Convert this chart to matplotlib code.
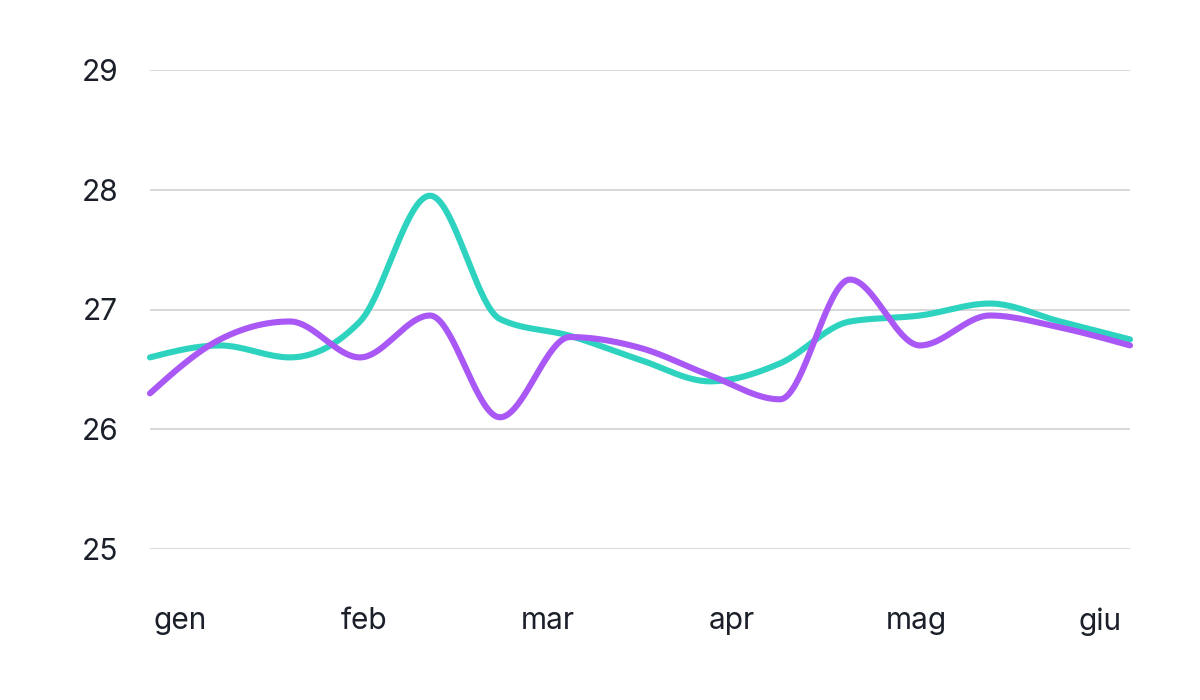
import numpy as np
from matplotlib import pyplot as plt

plt.rcParams['font.family'] = ['Inter', 'DejaVu Sans']

# data: 15 evenly spaced samples, two series
teal_vals = [26.6, 26.7, 26.6, 26.9, 27.95, 26.92, 26.78, 26.58,
             26.4, 26.55, 26.9, 26.95, 27.05, 26.9, 26.75]
purple_vals = [26.3, 26.75, 26.9, 26.6, 26.95, 26.1, 26.77, 26.68,
               26.45, 26.25, 27.25, 26.7, 26.95, 26.85, 26.7]
months = ["gen", "feb", "mar", "apr", "mag", "giu"]
y_ticks = [25, 26, 27, 28, 29]

c_teal = "#2ed3c0"
c_purple = "#a958f5"
c_text = "#1b1f2a"
c_grid = "#d6d6d6"


def monotone_curve(x, y, n=40):
    """ Monotone cubic (d3 monotoneX style) through the points. """
    x = np.asarray(x, float)
    y = np.asarray(y, float)
    h = np.diff(x)
    s = np.diff(y) / h
    m = np.zeros_like(y)
    for i in range(1, len(y) - 1):
        p = (s[i-1]*h[i] + s[i]*h[i-1]) / (h[i-1] + h[i])
        m[i] = (np.sign(s[i-1]) + np.sign(s[i])) * \
            min(abs(s[i-1]), abs(s[i]), 0.5*abs(p))
    m[0] = (3*s[0] - m[1]) / 2
    m[-1] = (3*s[-1] - m[-2]) / 2
    xs, ys = [], []
    for i in range(len(h)):
        t = np.linspace(0, 1, n, endpoint=False)
        h00 = 2*t**3 - 3*t**2 + 1
        h10 = t**3 - 2*t**2 + t
        h01 = -2*t**3 + 3*t**2
        h11 = t**3 - t**2
        xs.append(x[i] + t*h[i])
        ys.append(h00*y[i] + h10*h[i]*m[i] + h01*y[i+1] + h11*h[i]*m[i+1])
    xs.append([x[-1]])
    ys.append([y[-1]])
    return np.concatenate(xs), np.concatenate(ys)


fig = plt.figure(figsize=(12, 7), dpi=100)
ax = fig.add_axes([0.125, 1 - 549/700, 1130/1200 - 0.125, (549 - 70)/700])

x = np.arange(len(teal_vals))
for vals, col in [(teal_vals, c_teal), (purple_vals, c_purple)]:
    cx, cy = monotone_curve(x, vals)
    ax.plot(cx, cy, '-', color=col, lw=4.4, solid_capstyle='round',
            clip_on=False, zorder=3)

ax.set_xlim(0, len(teal_vals) - 1)
ax.set_ylim(25, 29)
ax.set_yticks(y_ticks)
ax.set_yticklabels([str(v) for v in y_ticks])
ax.grid(axis='y', color=c_grid, lw=1.3)
ax.set_axisbelow(True)

# month labels spread evenly across the axis
span = len(teal_vals) - 1
month_pos = 0.43 + np.arange(len(months)) * (span - 0.86) / (len(months) - 1)
ax.set_xticks(month_pos)
ax.set_xticklabels(months)

for sp in ax.spines.values():
    sp.set_visible(False)
ax.tick_params(axis='both', length=0, labelsize=21.5, colors=c_text)
ax.tick_params(axis='y', pad=23)
ax.tick_params(axis='x', pad=42)

fig.savefig("out.png", dpi=100, facecolor='white')
